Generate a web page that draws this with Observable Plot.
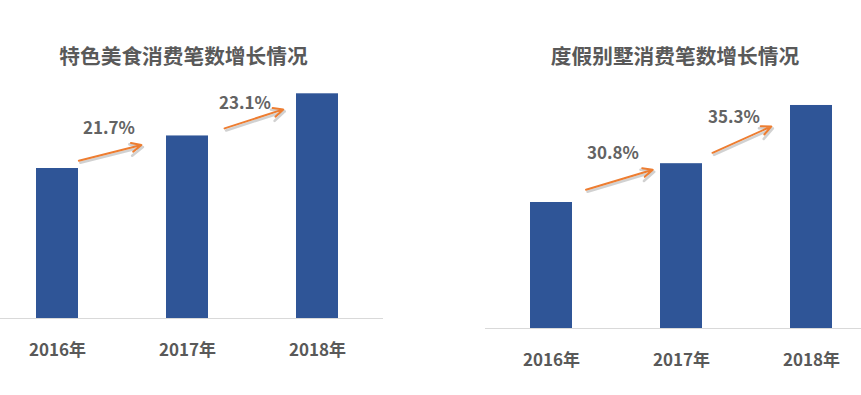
<!DOCTYPE html>
<html>
<head>
<meta charset="utf-8">
<script src="https://cdn.jsdelivr.net/npm/d3@7"></script>
<script src="https://cdn.jsdelivr.net/npm/@observablehq/plot@0.6"></script>
<style>
  html, body { margin: 0; padding: 0; background: #fff; }
  body { width: 861px; height: 395px; overflow: hidden; position: relative; font-family: "Noto Sans CJK SC", sans-serif; }
  .panel { position: absolute; top: 0; height: 395px; }
  .panel svg { position: absolute; left: 0; top: 0; }
  .title { position: absolute; width: 320px; text-align: center; font-size: 20.7px; line-height: 1; font-weight: bold; color: #595959; white-space: nowrap; z-index: 2; }
</style>
</head>
<body>
<div id="left" class="panel" style="left:0;width:430px"></div>
<div id="right" class="panel" style="left:430px;width:431px"></div>
<script>
// ---- data ----
const years = ["2016年", "2017年", "2018年"];
const foodTitle = "特色美食消费笔数增长情况";
const foodIndex = [100, 121.7, 149.8];      // 2016 = 100
const foodGrowth = ["21.7%", "23.1%"];
const villaTitle = "度假别墅消费笔数增长情况";
const villaIndex = [100, 130.8, 177.0];     // 2016 = 100
const villaGrowth = ["30.8%", "35.3%"];

const BAR = "#2F5597";
const ORANGE = "#ED7D31";
const FONT = "Noto Sans CJK SC, sans-serif";

function growthMarks(values, growth, i, s) {
  const seg = [{x1: years[i], y1: values[i], x2: years[i + 1], y2: values[i + 1], g: growth[i]}];
  const common = {x1: "x1", y1: "y1", x2: "x2", y2: "y2", insetStart: s.insetStart, insetEnd: s.insetEnd, headLength: 8, headAngle: 50};
  return [
    Plot.arrow(seg, {...common, stroke: "#000", strokeOpacity: 0.18, strokeWidth: 2.6, dx: 1.5, dy: s.dy + 2}),
    Plot.arrow(seg, {...common, stroke: ORANGE, strokeWidth: 2, dy: s.dy}),
    Plot.text(seg, {x: "x2", y: "y2", text: "g", dx: s.ldx, dy: s.ldy, fontSize: 17, fontWeight: "bold", fill: "#636363"})
  ];
}

function chart(values, growth, o) {
  const data = years.map((y, i) => ({year: y, v: values[i]}));
  return Plot.plot({
    width: o.width,
    height: 395,
    marginLeft: o.marginLeft,
    marginRight: o.marginRight,
    marginTop: o.marginTop,
    marginBottom: o.marginBottom,
    style: {fontFamily: FONT, fontSize: "17px", fontWeight: "bold", color: "#595959", background: "transparent", overflow: "visible"},
    x: {domain: years, range: o.xRange, paddingInner: 0.677, paddingOuter: 0, tickSize: 0, tickPadding: o.tickPadding, label: null},
    y: {domain: [0, o.yMax], axis: null},
    marks: [
      Plot.barY(data, {x: "year", y: "v", fill: BAR}),
      Plot.ruleY([0], {stroke: "#d9d9d9", strokeWidth: 1}),
      ...growthMarks(values, growth, 0, o.a[0]),
      ...growthMarks(values, growth, 1, o.a[1])
    ]
  });
}

function panel(id, title, titleCenter, svg) {
  const el = document.getElementById(id);
  el.appendChild(svg);
  const t = document.createElement("div");
  t.className = "title";
  t.textContent = title;
  t.style.left = (titleCenter - 160) + "px";
  t.style.top = "44.5px";
  el.appendChild(t);
}

panel("left", foodTitle, 183.5, chart(foodIndex, foodGrowth, {
  width: 430, marginLeft: 0, marginRight: 47, marginTop: 18, marginBottom: 77,
  xRange: [36, 338], yMax: 200, tickPadding: 25,
  a: [
    {dy: -2.5, insetStart: 22, insetEnd: 47.5, ldx: -78.5, ldy: -7},
    {dy: 4.5, insetStart: 39, insetEnd: 36, ldx: -72.5, ldy: 10}
  ]
}));

panel("right", villaTitle, 245, chart(villaIndex, villaGrowth, {
  width: 431, marginLeft: 55, marginRight: 0, marginTop: 13, marginBottom: 67,
  xRange: [100, 402], yMax: 250, tickPadding: 25,
  a: [
    {dy: -2.5, insetStart: 36, insetEnd: 30, ldx: -68.5, ldy: -10.5},
    {dy: 3, insetStart: 34, insetEnd: 44, ldx: -77.5, ldy: 12.3}
  ]
}));
</script>
</body>
</html>
